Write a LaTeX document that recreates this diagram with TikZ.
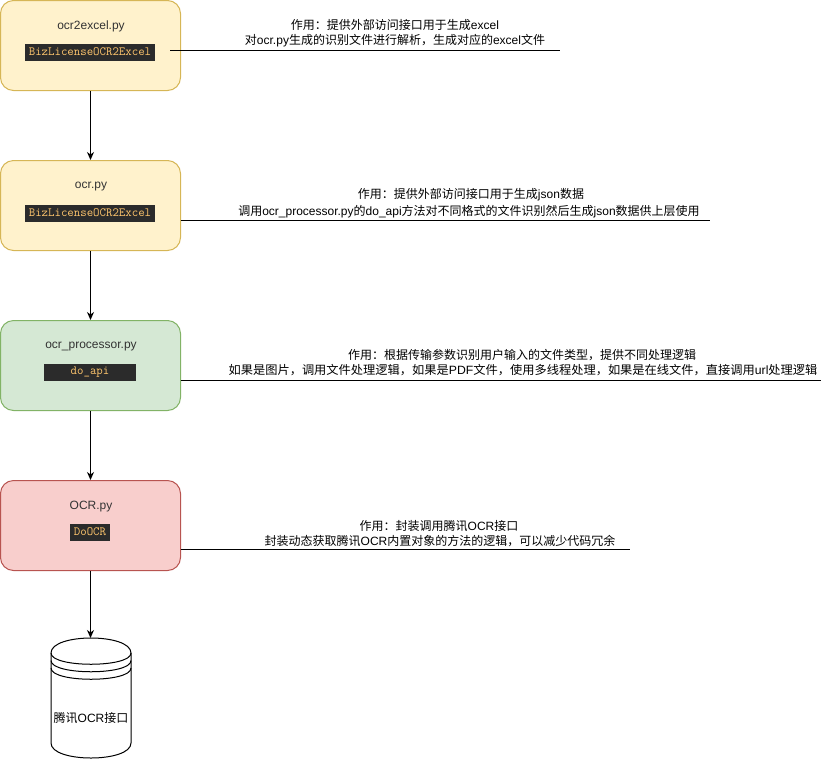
\documentclass[tikz,border=0pt]{standalone}
\usepackage{fontspec}
\setmainfont{Liberation Sans}
\newfontfamily\cjk{Noto Sans CJK SC}
\newfontfamily\codefont{Latin Modern Mono}
\usetikzlibrary{arrows.meta}
\newcommand\C[1]{{\cjk #1}}
\definecolor{yfill}{HTML}{FFF2CC}
\definecolor{ystroke}{HTML}{D6B656}
\definecolor{gfill}{HTML}{D5E8D4}
\definecolor{gstroke}{HTML}{82B366}
\definecolor{rfill}{HTML}{F8CECC}
\definecolor{rstroke}{HTML}{B85450}
\definecolor{codebg}{HTML}{2B2B2B}
\definecolor{codefg}{HTML}{FFC66D}
\definecolor{tgray}{HTML}{333333}
\tikzset{
  modbox/.style={draw, rounded corners=13pt, minimum width=180pt, minimum height=90pt, line width=1pt, inner sep=0pt},
  ybox/.style={modbox, fill=yfill, draw=ystroke},
  gbox/.style={modbox, fill=gfill, draw=gstroke},
  rbox/.style={modbox, fill=rfill, draw=rstroke},
  title/.style={font=\fontsize{12}{14}\selectfont, text=tgray, inner sep=0pt},
  code/.style={fill=codebg, text=codefg, font=\codefont\fontsize{12.5}{14}\selectfont, inner xsep=4pt, inner ysep=0pt, minimum height=17pt},
  desc/.style={font=\fontsize{12}{14}\selectfont, inner sep=0pt, text=black},
  arr/.style={line width=1pt, -{Stealth[length=8pt,width=7pt,inset=2.5pt]}},
  uline/.style={line width=1pt},
  dbline/.style={line width=1pt}
}
\begin{document}
\begin{tikzpicture}[x=1pt,y=-1pt]
\useasboundingbox (0,0) rectangle (821,761);

% modules
\node[ybox] (box1) at (90.5,45.5) {};
\node[title] (t1) at (91,26.5) {ocr2excel.py};
\node[code] (c1) at (90,52) {BizLicenseOCR2Excel};

\node[ybox] (box2) at (90.5,205.5) {};
\node[title] (t2) at (91,186.5) {ocr.py};
\node[code] (c2) at (90,213) {BizLicenseOCR2Excel};

\node[gbox] (box3) at (90.5,365.5) {};
\node[title] (t3) at (91,346.5) {ocr\_processor.py};
\node[code, minimum width=92pt] (c3) at (90,372) {do\_api};

\node[rbox] (box4) at (90.5,525.5) {};
\node[title] (t4) at (91,506.5) {OCR.py};
\node[code] (c4) at (90,532) {DoOCR};

% datastore
\filldraw[dbline, fill=white] (51,653) .. controls (51,633) and (131,633) .. (131,653) -- (131,743) .. controls (131,763) and (51,763) .. (51,743) -- cycle;
\draw[dbline] (51,653) .. controls (51,668) and (131,668) .. (131,653);
\draw[dbline] (51,660.5) .. controls (51,675.5) and (131,675.5) .. (131,660.5);
\draw[dbline] (51,668) .. controls (51,683) and (131,683) .. (131,668);
\coordinate (dbtop) at (90.5,638);
\node[desc] (db) at (91,718) {\C{腾讯}OCR\C{接口}};

% arrows
\draw[arr] (box1.south) -- (box2.north);
\draw[arr] (box2.south) -- (box3.north);
\draw[arr] (box3.south) -- (box4.north);
\draw[arr] (box4.south) -- (dbtop);

% descriptions
\node[desc] (d1a) at (395,25) {\C{作用：提供外部访问接口用于生成}excel};
\node[desc] (d1b) at (395,41) {\C{对}ocr.py\C{生成的识别文件进行解析，生成对应的}excel\C{文件}};
\coordinate (u1a) at (170,50); \coordinate (u1b) at (560,50);
\draw[uline] (u1a) -- (u1b);

\node[desc] (d2a) at (471,195) {\C{作用：提供外部访问接口用于生成}json\C{数据}};
\node[desc] (d2b) at (469,212) {\C{调用}ocr\_processor.py\C{的}do\_api\C{方法对不同格式的文件识别然后生成}json\C{数据供上层使用}};
\coordinate (u2a) at (180.5,220); \coordinate (u2b) at (710,220);
\draw[uline] (u2a) -- (u2b);

\node[desc] (d3a) at (522,355) {\C{作用：根据传输参数识别用户输入的文件类型，提供不同处理逻辑}};
\node[desc, xscale=1.02] (d3b) at (523,370) {\C{如果是图片，调用文件处理逻辑，如果是}PDF\C{文件，使用多线程处理，如果是在线文件，直接调用}url\C{处理逻辑}};
\coordinate (u3a) at (180.5,380); \coordinate (u3b) at (821,380);
\draw[uline] (u3a) -- (u3b);

\node[desc] (d4a) at (439,526) {\C{作用：封装调用腾讯}OCR\C{接口}};
\node[desc] (d4b) at (440,541) {\C{封装动态获取腾讯}OCR\C{内置对象的方法的逻辑，可以减少代码冗余}};
\coordinate (u4a) at (180.5,549); \coordinate (u4b) at (630,549);
\draw[uline] (u4a) -- (u4b);
\end{tikzpicture}
\end{document}
